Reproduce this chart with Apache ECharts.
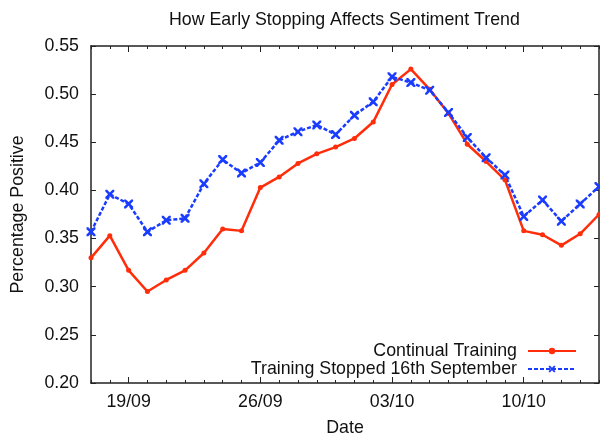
<!DOCTYPE html>
<html>
<head>
<meta charset="utf-8">
<script src="https://cdn.jsdelivr.net/npm/echarts@6/dist/echarts.min.js"></script>
<style>
  html, body { margin: 0; padding: 0; background: #fff; }
  #main { width: 600px; height: 434px; }
</style>
</head>
<body>
<div id="main"></div>
<script>
// one point per day, 17/09 .. 14/10
var dates = ['17/09', '18/09', '19/09', '20/09', '21/09', '22/09', '23/09', '24/09', '25/09', '26/09',
  '27/09', '28/09', '29/09', '30/09', '01/10', '02/10', '03/10', '04/10', '05/10', '06/10',
  '07/10', '08/10', '09/10', '10/10', '11/10', '12/10', '13/10', '14/10'];
var majorTicks = ['19/09', '26/09', '03/10', '10/10'];

var continualTraining = [0.330, 0.353, 0.317, 0.295, 0.307, 0.317, 0.335, 0.360, 0.358, 0.403,
  0.414, 0.428, 0.438, 0.445, 0.454, 0.471, 0.510, 0.526, 0.505, 0.480,
  0.448, 0.430, 0.411, 0.358, 0.354, 0.343, 0.355, 0.375];
var trainingStopped = [0.357, 0.396, 0.386, 0.357, 0.369, 0.371, 0.407, 0.432, 0.418, 0.429,
  0.452, 0.461, 0.468, 0.458, 0.478, 0.492, 0.518, 0.512, 0.504, 0.481,
  0.455, 0.434, 0.416, 0.373, 0.390, 0.368, 0.386, 0.404];

var FONT = 'Liberation Sans';
var FS = 17.8;
var axisColor = '#222';
var crossPath = 'path://M0,0 L2,0 L5,3 L8,0 L10,0 L10,2 L7,5 L10,8 L10,10 L8,10 L5,7 L2,10 L0,10 L0,8 L3,5 L0,2 Z';

function isMajor(i, v) {
  return majorTicks.indexOf(v) >= 0;
}

// x axes: bottom/top minor ticks, bottom/top major ticks (gnuplot style mirrored box)
function xAx(pos, len, major, labels) {
  return {
    type: 'category',
    data: dates,
    position: pos,
    boundaryGap: false,
    axisLine: { show: !major, lineStyle: { color: axisColor, width: 1.5 } },
    axisTick: {
      show: true, inside: true, length: len,
      interval: major ? isMajor : 0,
      lineStyle: { color: axisColor, width: 1 }
    },
    axisLabel: {
      show: labels,
      interval: isMajor,
      color: '#111', fontFamily: FONT, fontSize: FS, margin: 10
    },
    splitLine: { show: false }
  };
}

var xAxes = [xAx('bottom', 3, false, true), xAx('bottom', 6, true, false),
  xAx('top', 3, false, false), xAx('top', 6, true, false)];
xAxes[0].name = 'Date';
xAxes[0].nameLocation = 'middle';
xAxes[0].nameGap = 36;
xAxes[0].nameTextStyle = { color: '#111', fontFamily: FONT, fontSize: FS };

function yAx(pos, labels) {
  return {
    type: 'value',
    position: pos,
    min: 0.2, max: 0.55, interval: 0.05,
    axisLine: { show: true, lineStyle: { color: axisColor, width: 1.5 } },
    axisTick: { show: true, inside: true, length: 5, lineStyle: { color: axisColor, width: 1 } },
    axisLabel: {
      show: labels,
      formatter: function (v) { return v.toFixed(2); },
      color: '#111', fontFamily: FONT, fontSize: FS, margin: 12
    },
    splitLine: { show: false }
  };
}
var yAxes = [yAx('left', true), yAx('right', false)];
yAxes[0].name = 'Percentage Positive';
yAxes[0].nameLocation = 'middle';
yAxes[0].nameGap = 64;
yAxes[0].nameTextStyle = { color: '#111', fontFamily: FONT, fontSize: FS };

var option = {
  backgroundColor: '#fff',
  animation: false,
  title: {
    text: 'How Early Stopping Affects Sentiment Trend',
    left: 169, top: 11, padding: 0,
    textStyle: { color: '#111', fontFamily: FONT, fontSize: FS, fontWeight: 'normal' }
  },
  grid: { left: 91, right: 1, top: 46, bottom: 51, outerBoundsMode: 'none' },
  legend: {
    orient: 'vertical',
    right: 23, top: 342, padding: 0,
    align: 'right',
    itemWidth: 48, itemHeight: 8, itemGap: 0,
    textStyle: { color: '#111', fontFamily: FONT, fontSize: FS, lineHeight: 18, padding: [0, 6, 0, 0] },
    data: ['Continual Training', 'Training Stopped 16th September']
  },
  xAxis: xAxes,
  yAxis: yAxes,
  series: [
    {
      name: 'Continual Training',
      type: 'line',
      data: continualTraining,
      symbol: 'circle',
      symbolSize: 5,
      clip: false,
      itemStyle: { color: '#ff2d0a' },
      lineStyle: { color: '#ff2d0a', width: 2.5 }
    },
    {
      name: 'Training Stopped 16th September',
      type: 'line',
      data: trainingStopped,
      symbol: crossPath,
      symbolSize: 9,
      clip: false,
      itemStyle: { color: '#1a3cff' },
      lineStyle: { color: '#1a3cff', width: 2.5, type: [4, 2] }
    }
  ]
};

var chart = echarts.init(document.getElementById('main'));
chart.setOption(option);
</script>
</body>
</html>
